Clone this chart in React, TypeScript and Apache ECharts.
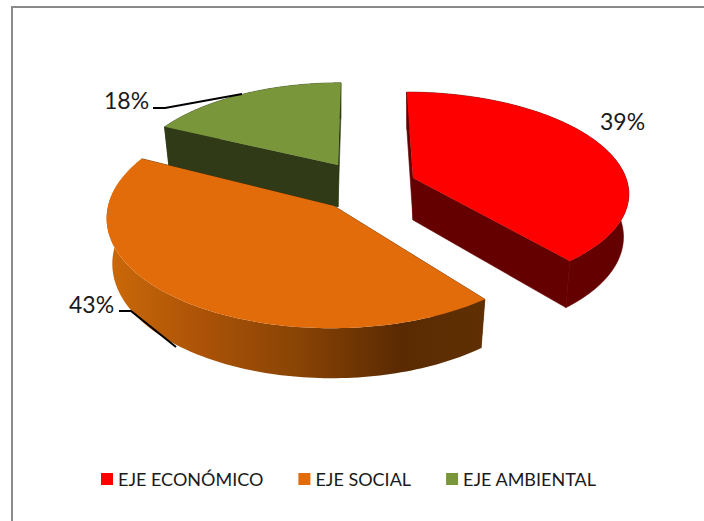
import React, { useEffect, useRef } from "react";
import * as echarts from "echarts";

// ---- data ----
const categories = ["EJE ECONÓMICO", "EJE SOCIAL", "EJE AMBIENTAL"];
const shares = [39, 43, 18];
const percentLabels = ["39%", "43%", "18%"];

// ---- styling / layout ----
const topColors = ["#ff0000", "#e26b0a", "#7a963a"];
const wallColors = ["#640000", "#5a2a02", "#303a16"];
const FONT = "Lato, 'Open Sans', sans-serif";
const sliceLayout = [
  { cx: 413, cy: 178, rx: 213, ry: 97, persp: 0.129, trim: 0, endTrim: 0, depth: 42 },
  { cx: 334, cy: 206, rx: 226, ry: 110, persp: 0.1, trim: 1, endTrim: 1.5, depth: 45 },
  { cx: 338, cy: 165, rx: 207, ry: 96, persp: 0.168, trim: 0, endTrim: 0, depth: 42 },
];
const VANISH_X = 358;
const SHRINK = 0.975;
const labelLayout = [
  { x: 600, y: 121 },
  { x: 69, y: 304 },
  { x: 104, y: 100 },
];
const leaderLines = [
  [[153, 108], [165, 108], [242, 94]],
  [[119, 311], [131, 311], [176, 347]],
];

const total = shares.reduce((a, b) => a + b, 0);

function sliceRenderer(index: number) {
  return (_params: any, api: any) => {
    const value = api.value(0);
    const before = shares.slice(0, index).reduce((a, b) => a + b, 0);
    const L = sliceLayout[index];
    const a0 = (before / total) * 360 + L.trim;
    const a1 = ((before + value) / total) * 360 + L.endTrim;

    const top = (deg: number) => {
      const t = (deg * Math.PI) / 180;
      const X = Math.sin(t);
      const Y = -Math.cos(t);
      const w = 1 - L.persp * Y;
      return [
        L.cx + (L.rx * X) / w + (L.cx - VANISH_X) * (1 / w - 1),
        L.cy + (L.ry * Y) / w,
        w,
      ];
    };
    const bottom = (p: number[]) => [
      L.cx + SHRINK * (p[0] - L.cx),
      p[1] + L.depth / p[2],
    ];
    const xy = (p: number[]) => [p[0], p[1]];

    const rim: number[][] = [];
    const steps = 120;
    for (let i = 0; i <= steps; i++) rim.push(top(a0 + ((a1 - a0) * i) / steps));

    const c = [L.cx, L.cy];
    const cb = [L.cx, L.cy + L.depth];
    const first = rim[0];
    const last = rim[rim.length - 1];
    const solidWall = { fill: wallColors[index], stroke: wallColors[index], lineWidth: 0.6 };

    const outerWallStyle =
      index === 1
        ? {
            fill: new echarts.graphic.LinearGradient(
              105,
              0,
              485,
              0,
              [
                { offset: 0, color: "#cc6a09" },
                { offset: 0.25, color: "#ac5307" },
                { offset: 0.5, color: "#8a4405" },
                { offset: 0.78, color: "#5a2a02" },
                { offset: 1, color: "#603004" },
              ],
              true
            ),
          }
        : solidWall;

    const children: any[] = [
      {
        type: "polygon",
        shape: { points: [c, xy(first), bottom(first), cb] },
        style: solidWall,
      },
      {
        type: "polygon",
        shape: { points: [c, xy(last), bottom(last), cb] },
        style: solidWall,
      },
      {
        type: "polygon",
        shape: {
          points: [...rim.map(xy), ...rim.slice().reverse().map(bottom)],
        },
        style: outerWallStyle,
      },
      {
        type: "polygon",
        shape: { points: [c, ...rim.map(xy)] },
        style: { fill: topColors[index] },
      },
    ];
    return { type: "group", children };
  };
}

export default function App() {
  const ref = useRef<HTMLDivElement>(null);
  useEffect(() => {
    const chart = echarts.init(ref.current!, undefined, { renderer: "svg" });
    const order = [2, 0, 1];
    chart.setOption({
      animation: false,
      backgroundColor: "#ffffff",
      legend: {
        data: categories,
        left: 101,
        top: 470,
        padding: 0,
        itemGap: 35,
        itemWidth: 12,
        itemHeight: 12,
        icon: "rect",
        textStyle: { fontFamily: FONT, fontSize: 18, color: "#1a1a1a" },
      },
      series: order.map((i) => ({
        type: "custom",
        name: categories[i],
        coordinateSystem: "none",
        itemStyle: { color: topColors[i] },
        data: [[shares[i]]],
        renderItem: sliceRenderer(i),
        silent: true,
      })),
      graphic: [
        {
          type: "polyline",
          shape: { points: [[12, 521], [12, 7], [704, 7]] },
          style: { stroke: "#8a8a8a", lineWidth: 2, fill: "none" },
          z: 100,
        },
        ...percentLabels.map((t, i) => ({
          type: "text",
          x: labelLayout[i].x,
          y: labelLayout[i].y,
          style: {
            text: t,
            fontFamily: FONT,
            fontSize: 23,
            fill: "#1a1a1a",
            textVerticalAlign: "middle",
          },
          z: 100,
        })),
        ...leaderLines.map((pts) => ({
          type: "polyline",
          shape: { points: pts },
          style: { stroke: "#000000", lineWidth: 2, fill: "none" },
          z: 100,
        })),
      ],
    });
    return () => chart.dispose();
  }, []);
  return (
    <div
      ref={ref}
      style={{ position: "absolute", left: 0, top: 0, width: 704, height: 521 }}
    />
  );
}
